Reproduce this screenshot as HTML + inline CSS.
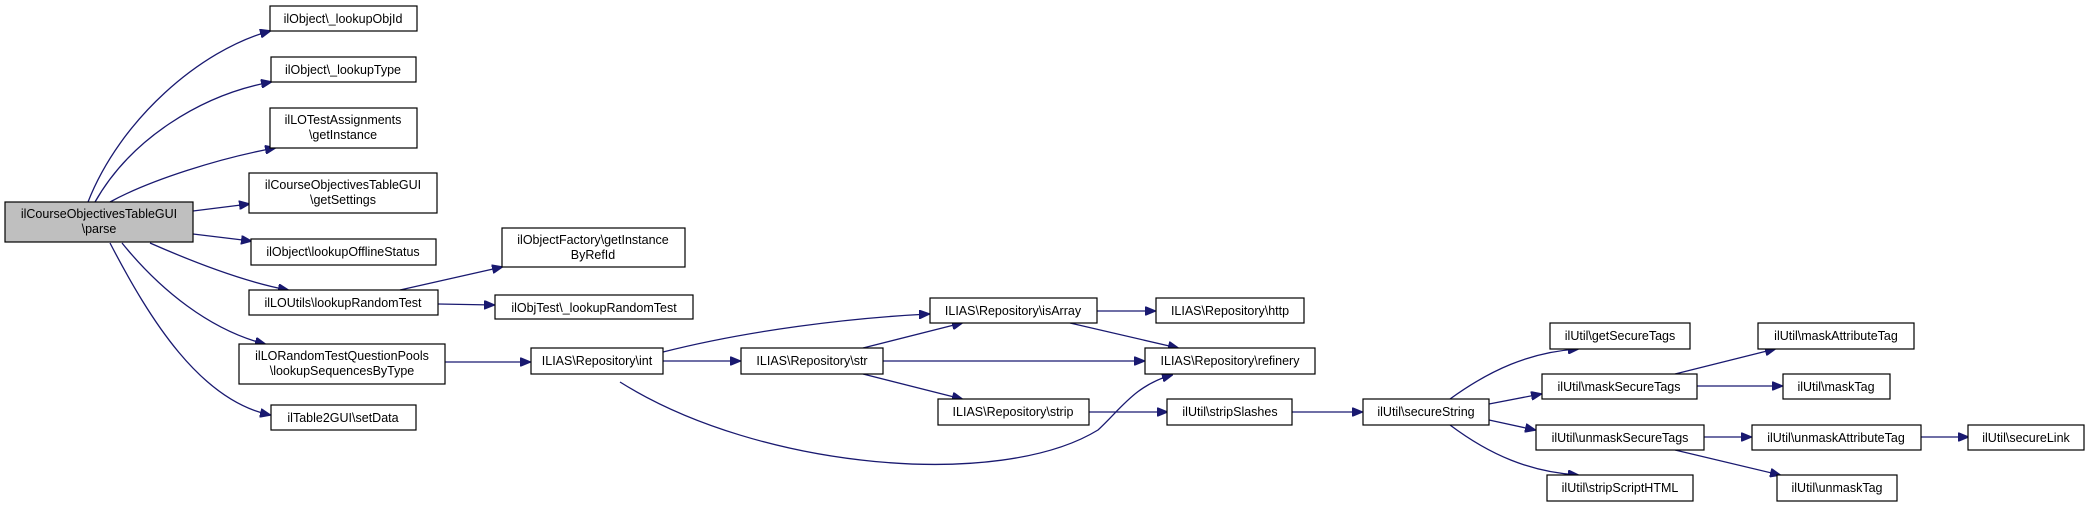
<!DOCTYPE html>
<html><head><meta charset="utf-8"><style>
html,body{margin:0;padding:0;background:#fff;}
svg{display:block;}
text{font-family:"Liberation Sans",sans-serif;font-size:12.5px;fill:#000;}
.b{fill:#fff;stroke:#000;stroke-width:1.2;}
.e{fill:none;stroke:#191970;stroke-width:1.3;}
</style></head><body>
<svg width="2089" height="507" viewBox="0 0 2089 507" xmlns="http://www.w3.org/2000/svg">
<defs><marker id="a" markerWidth="11" markerHeight="9" refX="10" refY="4.5" orient="auto" markerUnits="userSpaceOnUse"><path d="M0,0 L11,4.5 L0,9 z" fill="#191970" stroke="#191970"/></marker></defs>
<g marker-end="url(#a)">
<path class="e" d="M88 202 C120 120,200 50,270 31"/>
<path class="e" d="M95 202 C130 140,200 95,271 82"/>
<path class="e" d="M110 202 C150 180,220 158,275 148"/>
<path class="e" d="M193 211 L249 204"/>
<path class="e" d="M193 234 L251 241"/>
<path class="e" d="M150 243 C200 265,250 283,288 290"/>
<path class="e" d="M122 243 C160 290,210 330,265 344"/>
<path class="e" d="M110 243 C150 320,200 400,270 415"/>
<path class="e" d="M400 290 L502 267"/>
<path class="e" d="M438 304 L494 305"/>
<path class="e" d="M445 362 L530 362"/>
<path class="e" d="M663 352 C750 330,850 318,929 314"/>
<path class="e" d="M663 361 L740 361"/>
<path class="e" d="M620 382 C760 470,1000 490,1098 430 C1120 410,1135 385,1172 375"/>
<path class="e" d="M863 348 L962 323"/>
<path class="e" d="M883 361 L1144 361"/>
<path class="e" d="M863 374 L962 399"/>
<path class="e" d="M1097 311 L1155 311"/>
<path class="e" d="M1070 323 L1178 348"/>
<path class="e" d="M1089 412 L1167 412"/>
<path class="e" d="M1292 412 L1362 412"/>
<path class="e" d="M1450 399 C1490 370,1530 352,1578 349"/>
<path class="e" d="M1489 404 L1541 394"/>
<path class="e" d="M1489 420 L1535 430"/>
<path class="e" d="M1450 425 C1490 455,1530 472,1578 475"/>
<path class="e" d="M1675 374 L1775 349"/>
<path class="e" d="M1697 386 L1782 386"/>
<path class="e" d="M1704 437 L1751 437"/>
<path class="e" d="M1921 437 L1968 437"/>
<path class="e" d="M1675 450 L1780 475"/>
</g>
<rect x="5" y="202" width="188" height="40" style="fill:#bfbfbf;stroke:#000;stroke-width:1.2"/>
<text x="99" y="218" text-anchor="middle">ilCourseObjectivesTableGUI</text>
<text x="99" y="233" text-anchor="middle">\parse</text>
<g text-anchor="middle">
<rect class="b" x="270" y="6" width="147" height="25"/><text x="343" y="23">ilObject\_lookupObjId</text>
<rect class="b" x="271" y="57" width="145" height="25"/><text x="343" y="74">ilObject\_lookupType</text>
<rect class="b" x="270" y="108" width="147" height="40"/><text x="343" y="124">ilLOTestAssignments</text><text x="343" y="139">\getInstance</text>
<rect class="b" x="249" y="173" width="188" height="40"/><text x="343" y="189">ilCourseObjectivesTableGUI</text><text x="343" y="204">\getSettings</text>
<rect class="b" x="251" y="239" width="185" height="26"/><text x="343" y="256">ilObject\lookupOfflineStatus</text>
<rect class="b" x="249" y="290" width="189" height="25"/><text x="343" y="307">ilLOUtils\lookupRandomTest</text>
<rect class="b" x="239" y="344" width="206" height="40"/><text x="342" y="360">ilLORandomTestQuestionPools</text><text x="342" y="375">\lookupSequencesByType</text>
<rect class="b" x="271" y="405" width="145" height="25"/><text x="343" y="422">ilTable2GUI\setData</text>
<rect class="b" x="502" y="228" width="183" height="39"/><text x="593" y="244">ilObjectFactory\getInstance</text><text x="593" y="259">ByRefId</text>
<rect class="b" x="495" y="295" width="198" height="24"/><text x="594" y="312">ilObjTest\_lookupRandomTest</text>
<rect class="b" x="531" y="348" width="132" height="26"/><text x="597" y="365">ILIAS\Repository\int</text>
<rect class="b" x="741" y="348" width="142" height="26"/><text x="812" y="365">ILIAS\Repository\str</text>
<rect class="b" x="930" y="298" width="167" height="25"/><text x="1013" y="315">ILIAS\Repository\isArray</text>
<rect class="b" x="1156" y="298" width="148" height="25"/><text x="1230" y="315">ILIAS\Repository\http</text>
<rect class="b" x="1145" y="348" width="170" height="26"/><text x="1230" y="365">ILIAS\Repository\refinery</text>
<rect class="b" x="938" y="399" width="151" height="26"/><text x="1013" y="416">ILIAS\Repository\strip</text>
<rect class="b" x="1167" y="399" width="125" height="26"/><text x="1230" y="416">ilUtil\stripSlashes</text>
<rect class="b" x="1363" y="399" width="126" height="26"/><text x="1426" y="416">ilUtil\secureString</text>
<rect class="b" x="1550" y="323" width="140" height="26"/><text x="1620" y="340">ilUtil\getSecureTags</text>
<rect class="b" x="1542" y="374" width="155" height="25"/><text x="1619" y="391">ilUtil\maskSecureTags</text>
<rect class="b" x="1536" y="425" width="168" height="25"/><text x="1620" y="442">ilUtil\unmaskSecureTags</text>
<rect class="b" x="1547" y="475" width="146" height="26"/><text x="1620" y="492">ilUtil\stripScriptHTML</text>
<rect class="b" x="1758" y="323" width="156" height="26"/><text x="1836" y="340">ilUtil\maskAttributeTag</text>
<rect class="b" x="1783" y="374" width="107" height="25"/><text x="1836" y="391">ilUtil\maskTag</text>
<rect class="b" x="1752" y="425" width="169" height="25"/><text x="1836" y="442">ilUtil\unmaskAttributeTag</text>
<rect class="b" x="1968" y="425" width="116" height="25"/><text x="2026" y="442">ilUtil\secureLink</text>
<rect class="b" x="1777" y="475" width="120" height="26"/><text x="1837" y="492">ilUtil\unmaskTag</text>
</g>
</svg>
</body></html>
